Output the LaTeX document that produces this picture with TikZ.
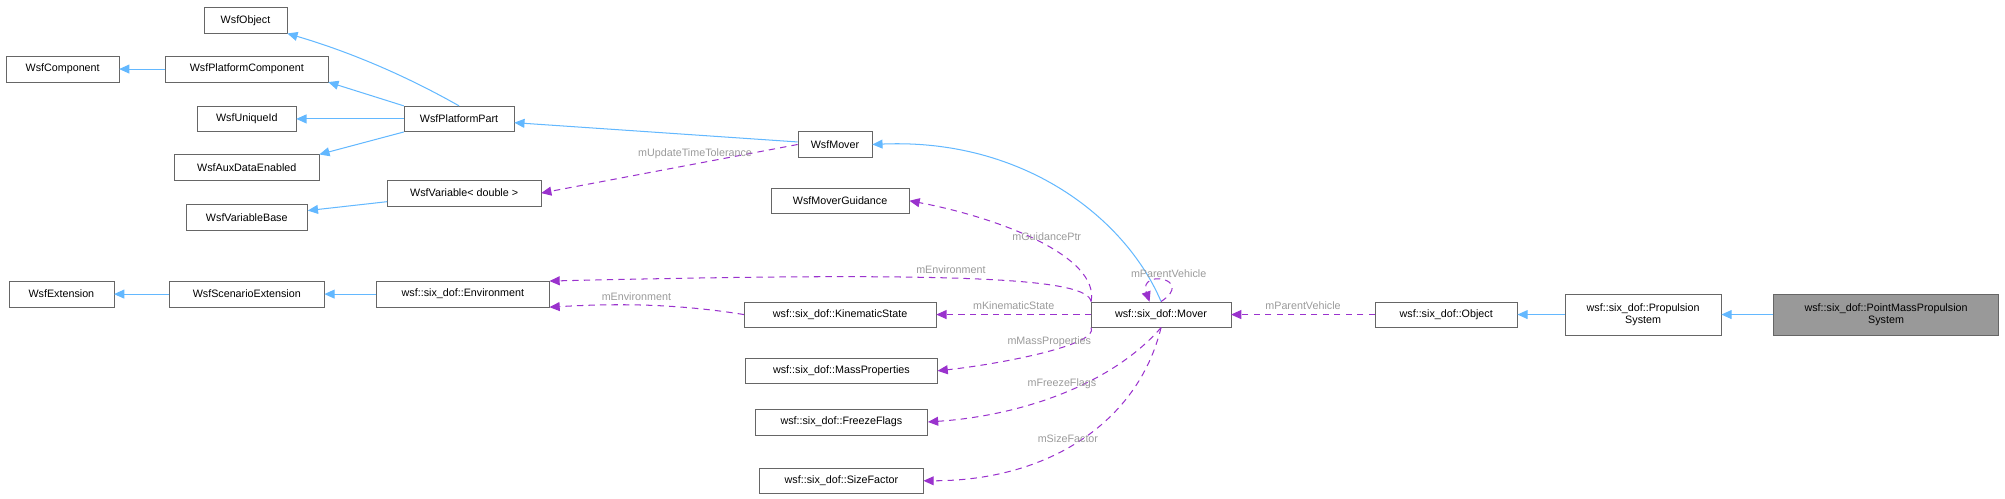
\documentclass[tikz,border=0pt]{standalone}
\usepackage{fontspec}
\setmainfont{Liberation Sans}
\usetikzlibrary{arrows.meta, positioning}
\definecolor{inheritblue}{HTML}{63B8FF}
\definecolor{usepurple}{HTML}{9A32CD}
\definecolor{labelgray}{HTML}{9A9A9A}
\definecolor{edgegray}{HTML}{666666}

\begin{document}
\begin{tikzpicture}[x=1pt, y=-1pt,
    cls/.style={rectangle, draw=edgegray, fill=white, inner sep=1pt, minimum height=20pt, align=center, font=\fontsize{8.4}{9.5}\selectfont},
    inherit/.style={-{Triangle[length=8pt, width=7pt]}, draw=inheritblue, thick},
    uses/.style={-{Triangle[length=8pt, width=7pt]}, draw=usepurple, thick, dash pattern=on 5pt off 4pt},
    lbl/.style={text=labelgray, font=\fontsize{8.4}{9.5}\selectfont}
]
    \useasboundingbox (0,0) rectangle (1568,390);

    \node[cls, minimum width=65pt] (object) at (192,16) {WsfObject};
    \node[cls, minimum width=88pt] (component) at (49,54) {WsfComponent};
    \node[cls, minimum width=127pt] (platcomp) at (193,54) {WsfPlatformComponent};
    \node[cls, minimum width=77pt] (uniqueid) at (193,93) {WsfUniqueId};
    \node[cls, minimum width=113pt] (auxdata) at (193,131) {WsfAuxDataEnabled};
    \node[cls, minimum width=86pt] (platpart) at (359,93) {WsfPlatformPart};
    \node[cls, minimum width=120pt] (variable) at (363,151) {WsfVariable< double >};
    \node[cls, minimum width=95pt] (varbase) at (193,170) {WsfVariableBase};
    \node[cls, minimum width=58pt] (wsfmover) at (653,113) {WsfMover};
    \node[cls, minimum width=108pt] (guidance) at (657,157) {WsfMoverGuidance};
    \node[cls, minimum width=82pt] (extension) at (48,230) {WsfExtension};
    \node[cls, minimum width=121pt] (scenario) at (193,230) {WsfScenarioExtension};
    \node[cls, minimum width=135pt] (environment) at (362,230) {wsf::six\_dof::Environment};
    \node[cls, minimum width=150pt] (kinematic) at (657,246) {wsf::six\_dof::KinematicState};
    \node[cls, minimum width=150pt] (massprops) at (658,290) {wsf::six\_dof::MassProperties};
    \node[cls, minimum width=135pt] (freeze) at (658,330) {wsf::six\_dof::FreezeFlags};
    \node[cls, minimum width=128pt] (sizefactor) at (658,376) {wsf::six\_dof::SizeFactor};
    \node[cls, minimum width=109pt] (mover) at (908,246) {wsf::six\_dof::Mover};
    \node[cls, minimum width=111pt] (sdobject) at (1131,246) {wsf::six\_dof::Object};
    \node[cls, minimum width=122pt, minimum height=32pt] (propulsion) at (1285,246) {wsf::six\_dof::Propulsion\\System};
    \node[cls, minimum width=176pt, minimum height=32pt, fill=black!40] (pointmass) at (1475,246) {wsf::six\_dof::PointMassPropulsion\\System};
    \coordinate (loopend) at (899,236);

    % inheritance
    \draw[inherit] (platcomp) -- (component);
    \draw[inherit] (platpart.north) .. controls (310,55) and (265,38) .. (object.south east);
    \draw[inherit] (platpart.north west) -- (platcomp.south east);
    \draw[inherit] (platpart) -- (uniqueid);
    \draw[inherit] (platpart.south west) -- (auxdata.north east);
    \draw[inherit] (wsfmover) -- (platpart);
    \draw[inherit] (variable) -- (varbase);
    \draw[inherit] (scenario) -- (extension);
    \draw[inherit] (environment) -- (scenario);
    \draw[inherit] (mover.north) .. controls (880,170) and (800,108) .. (wsfmover.east);
    \draw[inherit] (propulsion) -- (sdobject);
    \draw[inherit] (pointmass) -- (propulsion);

    % members
    \draw[uses] (wsfmover.west) -- node[lbl, above, pos=0.4] {mUpdateTimeTolerance} (variable.east);
    \draw[uses] (mover.north west) .. controls (860,200) and (780,170) .. node[lbl, pos=0.45, above] {mGuidancePtr} (guidance.east);
    \draw[uses] (mover.north west) .. controls (850,218) and (760,212) .. node[lbl, pos=0.55, above] {mEnvironment} (environment.north east);
    \draw[uses] (kinematic.west) .. controls (520,236) and (470,238) .. node[lbl, pos=0.5, above] {mEnvironment} (environment.south east);
    \draw[uses] (mover.north) .. controls (935,218) and (890,210) .. node[lbl, pos=0.4, above] {mParentVehicle} (loopend);
    \draw[uses] (mover) -- node[lbl, above] {mKinematicState} (kinematic);
    \draw[uses] (mover.south west) .. controls (860,270) and (780,285) .. node[lbl, pos=0.45, above] {mMassProperties} (massprops.east);
    \draw[uses] (mover.south) .. controls (870,300) and (800,325) .. node[lbl, pos=0.5, above] {mFreezeFlags} (freeze.east);
    \draw[uses] (mover.south) .. controls (890,330) and (820,376) .. node[lbl, pos=0.55, above] {mSizeFactor} (sizefactor.east);
    \draw[uses] (sdobject) -- node[lbl, above] {mParentVehicle} (mover);
\end{tikzpicture}
\end{document}
